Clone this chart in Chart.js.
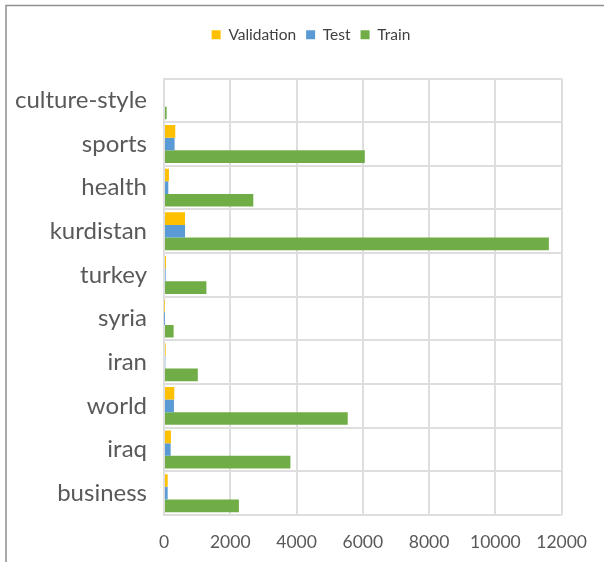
<!DOCTYPE html>
<html>
<head>
<meta charset="utf-8">
<script src="https://cdn.jsdelivr.net/npm/chart.js@4.4.1/dist/chart.umd.min.js"></script>
<style>
  html, body { margin: 0; padding: 0; background: #fff; }
  #wrap { width: 604px; height: 562px; position: relative; }
</style>
</head>
<body>
<div id="wrap"><canvas id="grafico"></canvas></div>
<script>
// datos
const categorias = ["culture-style", "sports", "health", "kurdistan", "turkey", "syria", "iran", "world", "iraq", "business"];
const validacion = [0, 340, 150, 635, 60, 10, 50, 310, 210, 110];
const test = [0, 320, 130, 635, 50, 5, 40, 300, 200, 110];
const train = [80, 6060, 2695, 11615, 1280, 290, 1020, 5545, 3815, 2260];
const ticksX = [0, 2000, 4000, 6000, 8000, 10000, 12000];

const gris = "#595959";
const rejilla = "#dedede";

// borde de la captura (solo arriba e izquierda)
const borde = {
    id: "borde",
    afterDraw(chart) {
        const ctx = chart.ctx;
        ctx.save();
        ctx.strokeStyle = "#8f8f8f";
        ctx.lineWidth = 1.5;
        ctx.beginPath();
        ctx.moveTo(6, 562);
        ctx.lineTo(6, 5.5);
        ctx.lineTo(604, 5.5);
        ctx.stroke();
        ctx.restore();
    }
};

// mas espacio bajo la leyenda y leyenda algo a la derecha
const espacioLeyenda = {
    id: "espacioLeyenda",
    beforeInit(chart) {
        const fit = chart.legend.fit;
        chart.legend.fit = function () {
            fit.bind(chart.legend)();
            this.height += 26;
        };
    },
    afterLayout(chart) {
        chart.legend.left += 27;
        chart.legend.right += 27;
    }
};

new Chart(document.getElementById("grafico"), {
    type: "bar",
    data: {
        labels: categorias,
        datasets: [
            { label: "Validation", data: validacion, backgroundColor: "#FFC000" },
            { label: "Test", data: test, backgroundColor: "#5B9BD5" },
            { label: "Train", data: train, backgroundColor: "#70AD47" }
        ]
    },
    options: {
        indexAxis: "y",
        responsive: true,
        maintainAspectRatio: false,
        animation: false,
        categoryPercentage: 0.87,
        barPercentage: 1,
        layout: { padding: { top: 17, right: 36, left: 0, bottom: 0 } },
        plugins: {
            legend: {
                position: "top",
                labels: {
                    boxWidth: 9,
                    boxHeight: 9,
                    padding: 10,
                    color: "#404040",
                    font: { family: "Lato", size: 15.5 }
                }
            },
            tooltip: { enabled: false }
        },
        scales: {
            x: {
                min: 0,
                max: 12000,
                afterFit(scale) { scale.height = 47; },
                afterBuildTicks(scale) { scale.ticks = ticksX.map(v => ({ value: v })); },
                grid: { color: rejilla, lineWidth: 2, drawTicks: false },
                border: { display: false },
                ticks: {
                    color: gris,
                    padding: 17,
                    callback: v => String(v),
                    font: { family: "Lato", size: 17.5 }
                }
            },
            y: {
                afterFit(scale) { scale.width = 164; },
                grid: { color: rejilla, lineWidth: 2, drawTicks: false, offset: true },
                border: { color: rejilla, width: 2 },
                ticks: {
                    color: gris,
                    padding: 17,
                    font: { family: "Lato", size: 24 }
                }
            }
        }
    },
    plugins: [borde, espacioLeyenda]
});
</script>
</body>
</html>
